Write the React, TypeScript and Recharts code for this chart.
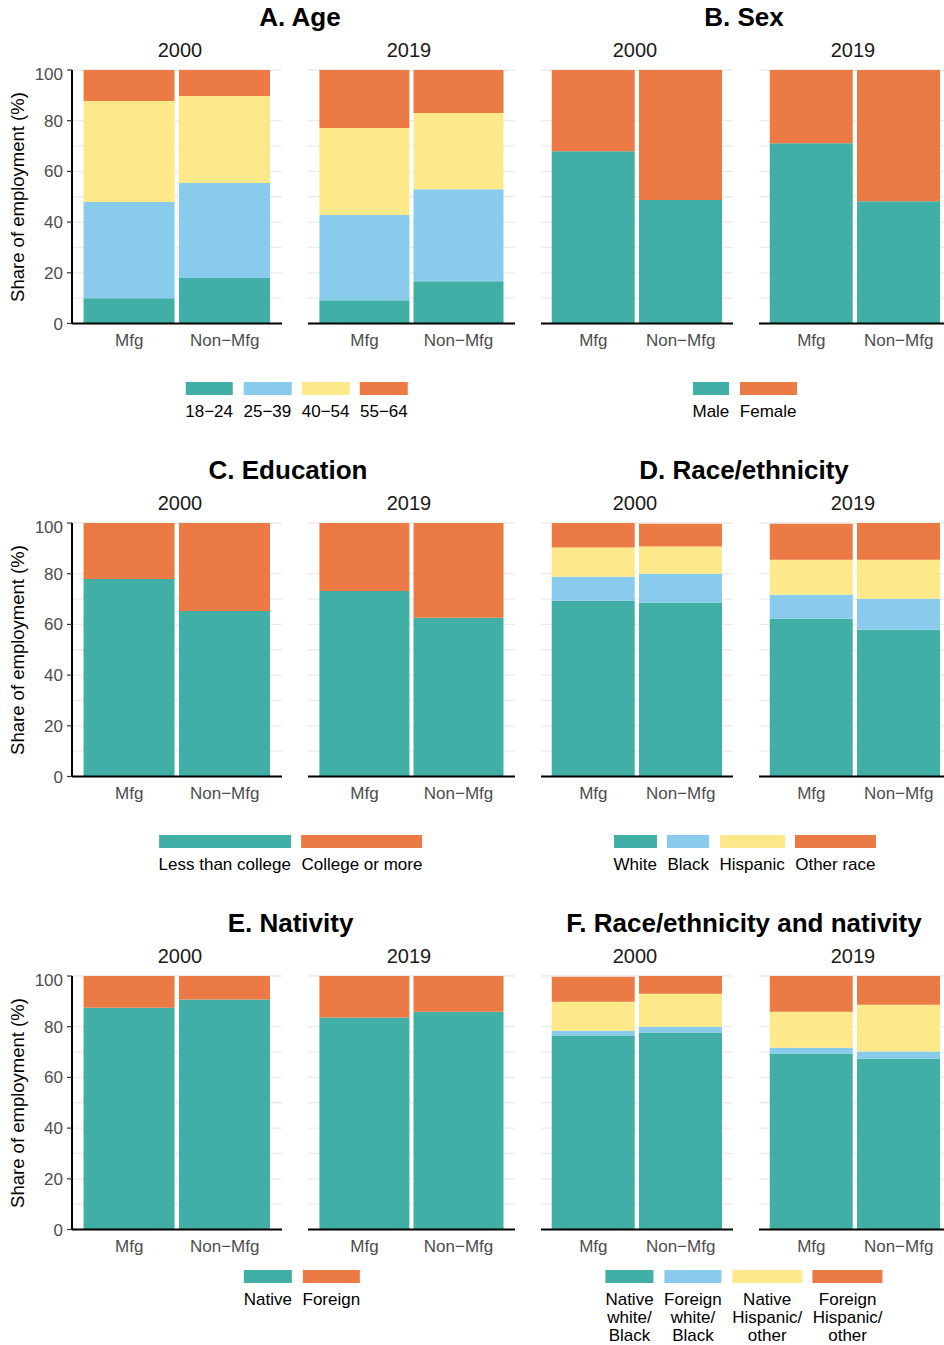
import React from 'react';
import { BarChart, Bar, XAxis, YAxis, CartesianGrid } from 'recharts';

const FONT = '"Liberation Sans", Arial, Helvetica, sans-serif';

// ---------- shared categories / ticks ----------
const industries = ['Mfg', 'Non\u2212Mfg'];
const years = ['2000', '2019'];
const yTicks = [0, 20, 40, 60, 80, 100];
const gridValues = [0, 10, 20, 30, 40, 50, 60, 70, 80, 90, 100];
const yAxisTitle = 'Share of employment (%)';

const palette4 = ['#41AFA5', '#89CBEC', '#FEE98A', '#EB7A45'];
const palette2 = ['#41AFA5', '#EB7A45'];

// ---------- A. Age ----------
const ageGroups = ['18\u221224', '25\u221239', '40\u221254', '55\u221264'];
const age2000Mfg = [10.0, 37.9, 39.9, 12.2];
const age2000NonMfg = [17.9, 37.5, 34.3, 10.3];
const age2019Mfg = [9.2, 33.6, 34.3, 22.9];
const age2019NonMfg = [16.7, 36.3, 30.0, 17.0];

// ---------- B. Sex ----------
const sexGroups = ['Male', 'Female'];
const sex2000Mfg = [67.9, 32.1];
const sex2000NonMfg = [48.7, 51.3];
const sex2019Mfg = [71.1, 28.9];
const sex2019NonMfg = [48.2, 51.8];

// ---------- C. Education ----------
const eduGroups = ['Less than college', 'College or more'];
const edu2000Mfg = [77.9, 22.1];
const edu2000NonMfg = [65.3, 34.7];
const edu2019Mfg = [73.2, 26.8];
const edu2019NonMfg = [62.6, 37.4];

// ---------- D. Race/ethnicity ----------
const raceGroups = ['White', 'Black', 'Hispanic', 'Other race'];
const race2000Mfg = [69.3, 9.5, 11.5, 9.7];
const race2000NonMfg = [68.6, 11.4, 10.7, 9.0];
const race2019Mfg = [62.2, 9.5, 13.8, 14.2];
const race2019NonMfg = [57.9, 12.2, 15.4, 14.5];

// ---------- E. Nativity ----------
const natGroups = ['Native', 'Foreign'];
const nat2000Mfg = [87.5, 12.5];
const nat2000NonMfg = [90.7, 9.3];
const nat2019Mfg = [83.6, 16.4];
const nat2019NonMfg = [85.9, 14.1];

// ---------- F. Race/ethnicity and nativity ----------
const rnGroups = ['Native\nwhite/\nBlack', 'Foreign\nwhite/\nBlack', 'Native\nHispanic/\nother', 'Foreign\nHispanic/\nother'];
const rn2000Mfg = [76.5, 1.9, 11.4, 9.9];
const rn2000NonMfg = [77.7, 2.3, 13.0, 7.0];
const rn2019Mfg = [69.4, 2.3, 14.2, 14.1];
const rn2019NonMfg = [67.4, 2.8, 18.5, 11.3];

// ---------- layout ----------
const rowTops = [70, 523, 976];
const plotH = 253.5;
const leftFacets = [{ x: 72, w: 210, sc: 180 }, { x: 308, w: 207, sc: 409 }];
const rightFacets = [{ x: 541, w: 192, sc: 635 }, { x: 759, w: 192, sc: 853 }];

function buildRows(groups: string[], mfg: number[], non: number[]) {
  return [mfg, non].map((vals, r) => {
    const row: any = { industry: industries[r] };
    groups.forEach((_, i) => {
      row['s' + i] = vals[i];
    });
    return row;
  });
}

function Facet(props: any) {
  const { x, w, top, showY, groups, colors, mfg, non } = props;
  const yw = showY ? 72 : 0;
  const mt = 6;
  const xh = 40;
  const unit = w / 2.2;
  const pad = (w - 2 * unit) / 2;
  const barSize = Math.round(unit - 4);
  const data = buildRows(groups, mfg, non);
  return (
    <div style={{ position: 'absolute', left: x - yw, top: top - mt }}>
      <BarChart
        width={yw + w}
        height={mt + plotH + xh}
        data={data}
        margin={{ top: mt, right: 0, bottom: 0, left: 0 }}
      >
        <CartesianGrid
          vertical={false}
          horizontalValues={gridValues}
          stroke="#ebebeb"
          strokeWidth={1.3}
        />
        <XAxis
          dataKey="industry"
          type="category"
          height={xh}
          padding={{ left: pad, right: pad }}
          axisLine={{ stroke: '#000', strokeWidth: 2 }}
          tickLine={false}
          tickSize={6}
          tickMargin={4}
          interval={0}
          tick={{ fill: '#4d4d4d', fontSize: 17, fontFamily: FONT }}
        />
        <YAxis
          type="number"
          hide={!showY}
          width={yw}
          domain={[0, 100]}
          ticks={yTicks}
          allowDataOverflow
          axisLine={{ stroke: '#000', strokeWidth: 2 }}
          tickLine={{ stroke: '#333', strokeWidth: 1.2 }}
          tickSize={5}
          tickMargin={4}
          tick={{ fill: '#4d4d4d', fontSize: 17, fontFamily: FONT }}
        />
        {groups.map((g: string, i: number) => (
          <Bar
            key={g}
            dataKey={'s' + i}
            name={g}
            stackId="a"
            fill={colors[i]}
            barSize={barSize}
            isAnimationActive={false}
          />
        ))}
      </BarChart>
    </div>
  );
}

function LegendRow(props: any) {
  const { cx, top, labels, colors } = props;
  return (
    <div
      style={{
        position: 'absolute',
        left: cx,
        top,
        transform: 'translateX(-50%)',
        display: 'flex',
        gap: 10.5,
        alignItems: 'flex-start',
      }}
    >
      {labels.map((l: string, i: number) => (
        <div key={l} style={{ display: 'flex', flexDirection: 'column', alignItems: 'stretch' }}>
          <div style={{ height: 13, background: colors[i] }} />
          <div
            style={{
              marginTop: 8,
              fontSize: 17,
              lineHeight: '18px',
              textAlign: 'center',
              whiteSpace: 'pre',
              color: '#000',
            }}
          >
            {l}
          </div>
        </div>
      ))}
    </div>
  );
}

function Panel(props: any) {
  const { title, titleCx, legendCx, legendTop, row, left, groups, colors, series } = props;
  const top = rowTops[row];
  const facets = left ? leftFacets : rightFacets;
  return (
    <>
      <div
        style={{
          position: 'absolute',
          left: titleCx,
          top: top - 66,
          transform: 'translateX(-50%)',
          fontSize: 26,
          fontWeight: 'bold',
          lineHeight: '26px',
          whiteSpace: 'nowrap',
          color: '#000',
        }}
      >
        {title}
      </div>
      {facets.map((f, k) => (
        <div
          key={'strip' + k}
          style={{
            position: 'absolute',
            left: f.sc - 50,
            width: 100,
            top: top - 30,
            textAlign: 'center',
            fontSize: 20,
            lineHeight: '20px',
            color: '#1a1a1a',
          }}
        >
          {years[k]}
        </div>
      ))}
      {left && (
        <div
          style={{
            position: 'absolute',
            left: 18,
            top: top + plotH / 2,
            transform: 'translate(-50%, -50%) rotate(-90deg)',
            fontSize: 18.5,
            whiteSpace: 'nowrap',
            color: '#000',
          }}
        >
          {yAxisTitle}
        </div>
      )}
      {facets.map((f, k) => (
        <Facet
          key={'facet' + k}
          x={f.x}
          w={f.w}
          top={top}
          showY={left && k === 0}
          groups={groups}
          colors={colors}
          mfg={series[k][0]}
          non={series[k][1]}
        />
      ))}
      <LegendRow cx={legendCx} top={legendTop} labels={groups} colors={colors} />
    </>
  );
}

export default function App() {
  return (
    <div
      style={{
        position: 'absolute',
        left: 0,
        top: 0,
        width: 944,
        height: 1345,
        overflow: 'hidden',
        background: '#fff',
        fontFamily: FONT,
      }}
    >
      <Panel
        title="A. Age"
        titleCx={300}
        legendCx={296.5}
        legendTop={382}
        row={0}
        left
        groups={ageGroups}
        colors={palette4}
        series={[[age2000Mfg, age2000NonMfg], [age2019Mfg, age2019NonMfg]]}
      />
      <Panel
        title="B. Sex"
        titleCx={744}
        legendCx={744.5}
        legendTop={382}
        row={0}
        left={false}
        groups={sexGroups}
        colors={palette2}
        series={[[sex2000Mfg, sex2000NonMfg], [sex2019Mfg, sex2019NonMfg]]}
      />
      <Panel
        title="C. Education"
        titleCx={288}
        legendCx={290.5}
        legendTop={835}
        row={1}
        left
        groups={eduGroups}
        colors={palette2}
        series={[[edu2000Mfg, edu2000NonMfg], [edu2019Mfg, edu2019NonMfg]]}
      />
      <Panel
        title="D. Race/ethnicity"
        titleCx={744}
        legendCx={744.5}
        legendTop={835}
        row={1}
        left={false}
        groups={raceGroups}
        colors={palette4}
        series={[[race2000Mfg, race2000NonMfg], [race2019Mfg, race2019NonMfg]]}
      />
      <Panel
        title="E. Nativity"
        titleCx={290.5}
        legendCx={302}
        legendTop={1270}
        row={2}
        left
        groups={natGroups}
        colors={palette2}
        series={[[nat2000Mfg, nat2000NonMfg], [nat2019Mfg, nat2019NonMfg]]}
      />
      <Panel
        title="F. Race/ethnicity and nativity"
        titleCx={744}
        legendCx={744}
        legendTop={1270}
        row={2}
        left={false}
        groups={rnGroups}
        colors={palette4}
        series={[[rn2000Mfg, rn2000NonMfg], [rn2019Mfg, rn2019NonMfg]]}
      />
    </div>
  );
}
